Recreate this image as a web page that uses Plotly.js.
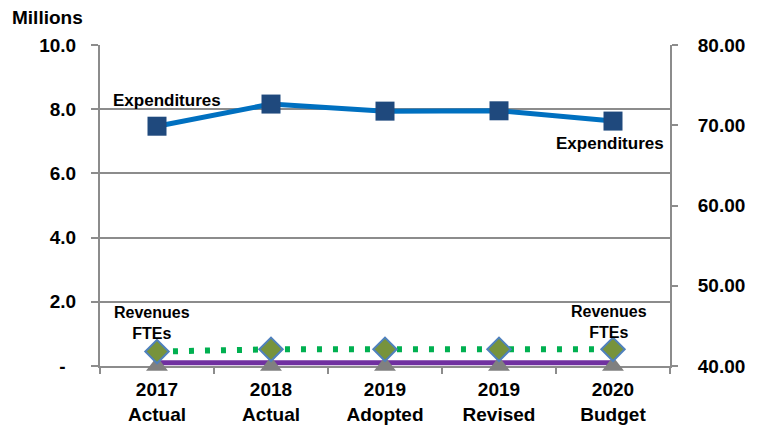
<!DOCTYPE html>
<html>
<head>
<meta charset="utf-8">
<script src="https://cdn.plot.ly/plotly-3.0.1.min.js"></script>
<style>html,body{margin:0;padding:0;background:#fff;}#chart{width:761px;height:428px;}</style>
</head>
<body>
<div id="chart"></div>
<script>
const categories = ["2017<br>Actual", "2018<br>Actual", "2019<br>Adopted", "2019<br>Revised", "2020<br>Budget"];
const expenditures = [7.47, 8.16, 7.94, 7.95, 7.63];
const revenues = [0.45, 0.52, 0.52, 0.52, 0.52];
const ftesLine = [0.1, 0.1, 0.1, 0.1, 0.1];
const ftesMarkers = [0, 0, 0, 0, 0];
const leftTickVals = [0, 2, 4, 6, 8, 10];
const leftTickText = ["-\u00a0\u00a0", "2.0", "4.0", "6.0", "8.0", "10.0"];
const rightTickVals = [40, 50, 60, 70, 80];

const FONT = "Liberation Sans, Arial, sans-serif";
const grid = "#8c8c8c";

const traces = [
  {x: categories, y: ftesLine, type: "scatter", mode: "lines", name: "FTEs",
   line: {color: "#7030A0", width: 5}, cliponaxis: false, hoverinfo: "skip"},
  {x: categories, y: ftesMarkers, type: "scatter", mode: "markers", name: "FTEs markers",
   marker: {symbol: "triangle-up", size: 19, color: "#808080"}, cliponaxis: false},
  {x: categories, y: revenues, type: "scatter", mode: "lines+markers", name: "Revenues",
   line: {color: "#00B050", width: 6, dash: "5px,11px"},
   marker: {symbol: "diamond", size: 18, color: "#77933C", line: {color: "#4F81BD", width: 2}},
   cliponaxis: false},
  {x: categories, y: expenditures, type: "scatter", mode: "lines+markers", name: "Expenditures",
   line: {color: "#0070C0", width: 5},
   marker: {symbol: "square", size: 19, color: "#1F497D", line: {color: "#1F497D", width: 0}},
   cliponaxis: false},
  {x: categories, y: rightTickVals.slice(0,0), yaxis: "y2", type: "scatter", mode: "lines", showlegend: false}
];

const lblFont = {family: FONT, size: 17, color: "#000", weight: "bold"};
const revFont = {family: FONT, size: 16, color: "#000", weight: "bold"};
const annotations = [
  {x: categories[0], y: expenditures[0], text: "Expenditures", showarrow: false, xshift: 10, yshift: 26, font: lblFont},
  {x: categories[4], y: expenditures[4], text: "Expenditures", showarrow: false, xshift: -3, yshift: -22, font: lblFont},
  {x: categories[0], y: revenues[0], text: "Revenues<br>FTEs", showarrow: false, xshift: -5, yshift: 29, borderpad: 0, font: revFont},
  {x: categories[4], y: revenues[4], text: "Revenues<br>FTEs", showarrow: false, xshift: -4, yshift: 27, borderpad: 0, font: revFont},
  {xref: "paper", yref: "paper", x: -90/570, y: 1, xanchor: "left", yanchor: "bottom", yshift: 15,
   text: "Millions", showarrow: false, font: {family: FONT, size: 19, color: "#000", weight: "bold"}}
];

const tickFont = {family: FONT, size: 19, color: "#000", weight: "bold"};
const layout = {
  width: 761, height: 428,
  margin: {l: 100, r: 91, t: 45, b: 62, pad: 0},
  paper_bgcolor: "#fff", plot_bgcolor: "#fff",
  showlegend: false,
  font: {family: FONT},
  xaxis: {type: "category", range: [-0.5, 4.5], showgrid: false, showline: true, linecolor: grid, linewidth: 2,
          ticks: "outside", tickson: "boundaries", ticklen: 6, tickcolor: grid, tickwidth: 2,
          tickfont: tickFont, zeroline: false, layer: "below traces", ticklabelstandoff: 5},
  yaxis: {range: [0, 10], tickvals: leftTickVals, ticktext: leftTickText, showgrid: true, gridcolor: grid, gridwidth: 2,
          showline: true, linecolor: grid, linewidth: 2, ticks: "outside", ticklen: 7, tickcolor: grid, tickwidth: 2,
          tickfont: tickFont, zeroline: false, ticklabelstandoff: 11, layer: "below traces"},
  yaxis2: {overlaying: "y", side: "right", range: [40, 80], tickvals: rightTickVals, tickformat: ".2f",
          showgrid: false, showline: true, linecolor: grid, linewidth: 2, ticks: "outside", ticklen: 6, tickcolor: grid, tickwidth: 2,
          tickfont: tickFont, zeroline: false, ticklabelstandoff: 16, layer: "below traces"},
  annotations: annotations
};

Plotly.newPlot("chart", traces, layout, {displayModeBar: false, staticPlot: true});
</script>
</body>
</html>
